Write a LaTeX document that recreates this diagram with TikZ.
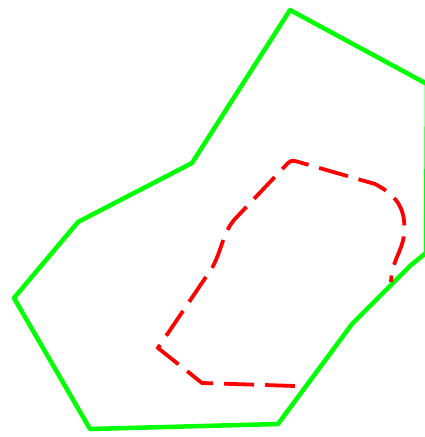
\documentclass[tikz,border=0pt]{standalone}
\usetikzlibrary{calc}

\begin{document}
\begin{tikzpicture}[x=1pt,y=-1pt,
 outer/.style={draw={rgb,255:red,0;green,255;blue,0},line width=4.5pt,line join=round},
 inner/.style={draw={rgb,255:red,255;green,0;blue,0},line width=3.8pt,dash pattern=on 30pt off 11pt}]
\useasboundingbox (0,0) rectangle (425,437);
% outer boundary
\coordinate (p1) at (290,10);
\coordinate (p2) at (427,84);
\coordinate (p3) at (426,253);
\coordinate (p4) at (411,265);
\coordinate (p5) at (352,324);
\coordinate (p6) at (278,424);
\coordinate (p7) at (90,429);
\coordinate (p8) at (14,298);
\coordinate (p9) at (78,222);
\coordinate (p10) at (192,163);
\draw[outer] (p1)--(p2)--(p3)--(p4)--(p5)--(p6)--(p7)--(p8)--(p9)--(p10)--cycle;
% inner route
\coordinate (q1) at (295,386);
\coordinate (q2) at (202,383);
\coordinate (q3) at (158,348);
\coordinate (q4) at (212,268);
\coordinate (q5) at (234,220);
\coordinate (q6) at (288,163);
\coordinate (q7) at (375,184);
\coordinate (q8) at (404,235);
\coordinate (q9) at (391,282);
\draw[inner] (q1)--(q2)--(q3)--(q4) .. controls (222,250) and (222,235) .. (q5)
 --(q6) .. controls (292,160) .. (302,163)--(q7)
 .. controls (400,197) and (406,212) .. (q8) .. controls (402,252) and (392,260) .. (q9);
\end{tikzpicture}
\end{document}
